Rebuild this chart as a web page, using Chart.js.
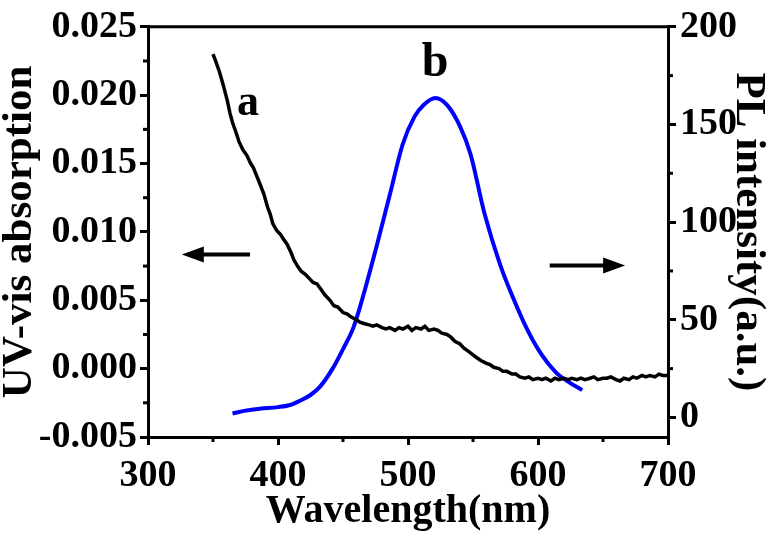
<!DOCTYPE html>
<html><head><meta charset="utf-8">
<script src="https://cdn.jsdelivr.net/npm/chart.js@4/dist/chart.umd.min.js"></script>
<style>html,body{margin:0;padding:0;background:#fff;}canvas{display:block;}</style>
</head><body>
<canvas id="c" width="771" height="538"></canvas>
<script>
// ---- Data ----
const uvWavelength = [350,352,355,358,361,363,365,368,370,373,376,379,381,384,387,389,392,394,396,399,402,404,407,410,412,415,418,421,424,427,430,433,436,440,443,446,450,453,456,460,463,466,470,473,476,480,483,486,490,493,496,500,503,506,510,513,516,520,523,526,530,533,536,540,543,546,550,553,556,560,563,566,570,573,576,580,583,586,590,593,596,600,603,606,610,613,616,620,623,626,630,633,636,640,643,646,650,653,656,660,663,666,670,673,676,680,683,686,690,693,696,700];
const uvAbsorption = [0.0230,0.0225,0.0217,0.0207,0.0196,0.0187,0.0180,0.0172,0.0166,0.0160,0.0156,0.0150,0.0147,0.0140,0.0133,0.0128,0.0118,0.0113,0.0106,0.0101,0.0098,0.0095,0.0091,0.0085,0.0080,0.0075,0.0071,0.0069,0.0066,0.0063,0.0062,0.0058,0.0054,0.0050,0.0046,0.0045,0.0041,0.0040,0.0038,0.0036,0.0034,0.0033,0.0032,0.0031,0.0032,0.0030,0.0029,0.0030,0.0028,0.0030,0.0029,0.0031,0.0028,0.0030,0.0029,0.0031,0.0028,0.0029,0.0028,0.0026,0.0025,0.0023,0.0020,0.0018,0.0015,0.0013,0.0010,0.0008,0.0006,0.0004,0.0003,0.0001,0.0000,-0.0002,-0.0002,-0.0004,-0.0004,-0.0006,-0.0007,-0.0006,-0.0008,-0.0007,-0.0008,-0.0007,-0.0009,-0.0007,-0.0008,-0.0007,-0.0008,-0.0007,-0.0008,-0.0007,-0.0008,-0.0007,-0.0006,-0.0008,-0.0007,-0.0007,-0.0006,-0.0008,-0.0009,-0.0007,-0.0008,-0.0006,-0.0007,-0.0005,-0.0006,-0.0005,-0.0006,-0.0004,-0.0005,-0.0005];
const plWavelength = [365,375,386,400,410,417,425,432,442,450,458,465,476,486,496,505,512,521,530,540,548,559,571,581,591,601,614,624,634];
const plIntensity = [2,3.5,4.5,5.3,6.5,8.6,11.5,15.5,25,35,46,61,88,114,140,154,160,163.6,160,149,135,104,78,61,46,34,23,18,14];

const xTickValues = [300,400,500,600,700];
const leftTickValues = [-0.005,0,0.005,0.010,0.015,0.020,0.025];
const rightTickValues = [0,50,100,150,200];

const xTitle = 'Wavelength(nm)';
const leftTitle = 'UV-vis absorption';
const rightTitle = 'PL intensity(a.u.)';
const curveLabelA = 'a';
const curveLabelB = 'b';

const FAMILY = '"Liberation Serif","Times New Roman",serif';
const tickFont = {family: FAMILY, size: 38, weight: 'bold', lineHeight: 1.2};
const titleFont = {family: FAMILY, size: 40, weight: 'bold', lineHeight: 1};
const yTitleFont = {family: FAMILY, size: 43, weight: 'bold', lineHeight: 1};

const mids = arr => arr.slice(1).map((v, i) => (v + arr[i]) / 2);

const decor = {
  id: 'decor',
  afterDraw(chart) {
    const ctx = chart.ctx, a = chart.chartArea;
    const x = chart.scales.x, yl = chart.scales.yL, yr = chart.scales.yR;
    ctx.save();
    ctx.strokeStyle = '#000'; ctx.fillStyle = '#000'; ctx.lineWidth = 3; ctx.lineCap = 'butt';
    const seg = (x1, y1, x2, y2) => { ctx.beginPath(); ctx.moveTo(x1, y1); ctx.lineTo(x2, y2); ctx.stroke(); };
    // top frame
    seg(a.left - 1.5, a.top, a.right + 1.5, a.top);
    // minor ticks
    mids(xTickValues).forEach(v => { const p = x.getPixelForValue(v); seg(p, a.bottom, p, a.bottom + 5); });
    mids(leftTickValues).forEach(v => { const p = yl.getPixelForValue(v); seg(a.left, p, a.left - 5, p); });
    mids(rightTickValues).forEach(v => { const p = yr.getPixelForValue(v); seg(a.right, p, a.right + 5, p); });
    // arrows
    const arrow = (x1, x2, y) => {
      ctx.lineWidth = 4;
      const dir = Math.sign(x2 - x1), head = 22, hw = 8;
      seg(x1, y, x2 - dir * head * 0.8, y);
      ctx.beginPath(); ctx.moveTo(x2, y); ctx.lineTo(x2 - dir * head, y - hw); ctx.lineTo(x2 - dir * head, y + hw); ctx.closePath(); ctx.fill();
    };
    arrow(x.getPixelForValue(378.5), x.getPixelForValue(326), yl.getPixelForValue(0.00835));
    arrow(x.getPixelForValue(609), x.getPixelForValue(667), yr.getPixelForValue(77.8));
    // curve labels
    ctx.textAlign = 'center'; ctx.textBaseline = 'middle';
    ctx.font = 'bold 44px ' + FAMILY;
    ctx.fillText(curveLabelA, x.getPixelForValue(377), yl.getPixelForValue(0.0194));
    ctx.font = 'bold 48px ' + FAMILY;
    ctx.fillText(curveLabelB, x.getPixelForValue(520.8), yr.getPixelForValue(181));
    ctx.restore();
  }
};

const axisGrid = {display: true, drawOnChartArea: false, drawTicks: true, tickLength: 8, color: '#000', lineWidth: 3};
const axisBorder = {display: true, color: '#000', width: 3};

new Chart(document.getElementById('c'), {
  type: 'line',
  data: {
    datasets: [
      {label: curveLabelA, data: uvWavelength.map((w, i) => ({x: w, y: uvAbsorption[i]})), yAxisID: 'yL',
       borderColor: '#000', borderWidth: 3.5, pointRadius: 0, tension: 0, fill: false},
      {label: curveLabelB, data: plWavelength.map((w, i) => ({x: w, y: plIntensity[i]})), yAxisID: 'yR',
       borderColor: '#0000ff', borderWidth: 4, pointRadius: 0, tension: 0.4, cubicInterpolationMode: 'monotone', fill: false}
    ]
  },
  options: {
    responsive: false, animation: false, devicePixelRatio: 1,
    layout: {padding: {top: 21, left: 0, right: 0, bottom: 0}},
    plugins: {legend: {display: false}, tooltip: {enabled: false}},
    scales: {
      x: {
        type: 'linear', position: 'bottom', min: 300, max: 700,
        grid: axisGrid, border: axisBorder,
        ticks: {font: tickFont, color: '#000', padding: 8, maxRotation: 0},
        afterBuildTicks: s => { s.ticks = xTickValues.map(v => ({value: v})); },
        afterFit: s => { s.height = 101; },
        title: {display: true, text: xTitle, color: '#000', font: titleFont, padding: {top: 0, bottom: 6}}
      },
      yL: {
        type: 'linear', position: 'left', min: -0.005, max: 0.025,
        grid: axisGrid, border: axisBorder,
        ticks: {font: tickFont, color: '#000', padding: 3, callback: v => v.toFixed(3)},
        afterBuildTicks: s => { s.ticks = leftTickValues.map(v => ({value: v})); },
        afterFit: s => { s.width = 148; },
        title: {display: true, text: leftTitle, color: '#000', font: yTitleFont, padding: {top: -2, bottom: 0}}
      },
      yR: {
        type: 'linear', position: 'right', min: -10, max: 200,
        grid: axisGrid, border: axisBorder,
        ticks: {font: tickFont, color: '#000', padding: 4, callback: v => String(v)},
        afterBuildTicks: s => { s.ticks = rightTickValues.map(v => ({value: v})); },
        afterFit: s => { s.width = 103; },
        title: {display: true, text: rightTitle, color: '#000', font: yTitleFont, padding: {top: 1, bottom: 0}}
      }
    }
  },
  plugins: [decor]
});
</script>
</body></html>
